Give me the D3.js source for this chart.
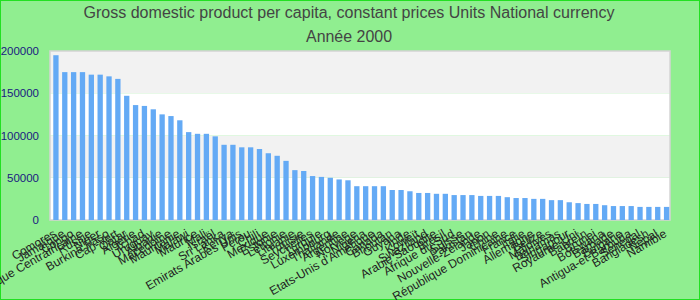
<!DOCTYPE html>
<html>
<head>
<meta charset="utf-8">
<script src="https://cdn.jsdelivr.net/npm/d3@7"></script>
<style>
body { margin: 0; background: #90ee90; }
svg { display: block; }
</style>
</head>
<body>
<svg width="700" height="300"></svg>
<script>
var titleLines = ['Gross domestic product per capita, constant prices Units National currency', 'Année 2000'];

var countries = [
	'Comores', 'Jamaïque', 'Congo', 'République Centrafricaine', 'Russie', 'Niger', 'Burkina Faso', 'Cap-Vert',
	'Qatar', 'Algérie', 'Tchad', 'Uruguay', 'Albanie', 'Macédoine', 'Mauritanie', 'Malawi',
	'Maurice', 'Mali', 'Israël', 'Sri Lanka', 'Kenya', 'Emirats Arabes Unis', 'Pérou', 'Chili',
	'Mexique', 'Estonie', 'Lettonie', 'Lituanie', 'Tunisie', 'Seychelles', 'Turquie', 'Luxembourg',
	'Thaïlande', 'Argentine', 'Norvège', 'Nigeria', 'Etats-Unis d\'Amérique', 'Canada', 'Bhoutan', 'Guyana',
	'Inde', 'Koweït', 'Swaziland', 'Arabie Saoudite', 'Brésil', 'Afrique du Sud', 'Suisse', 'Pakistan',
	'Nouvelle-Zélande', 'Japon', 'Chine', 'République Dominicaine', 'France', 'Italie', 'Allemagne', 'Belize',
	'Maldives', 'Bahamas', 'Singapour', 'Royaume-Uni', 'Bahreïn', 'Brunei', 'Botswana', 'Barbade',
	'Bulgarie', 'Antigua-et-Barbuda', 'Sénégal', 'Bangladesh', 'Népal', 'Namibie'
];

var values = [
	195000, 175000, 175000, 175000, 172000, 172000, 170000, 167000,
	147000, 136000, 135000, 131000, 125000, 123000, 118000, 104000,
	102000, 102000, 99000, 89000, 89000, 86000, 86000, 84000,
	79000, 76000, 70000, 59000, 58000, 52000, 51000, 50000,
	48000, 47000, 40000, 40000, 40000, 40000, 35500, 35500,
	34000, 32000, 32000, 31000, 31000, 29500, 29500, 29500,
	28500, 28500, 28500, 27000, 26000, 26000, 25000, 25000,
	23500, 23500, 21000, 20000, 19000, 19000, 17500, 16500,
	16500, 16500, 15500, 15500, 15500, 15500
];

var yTicks = [0, 50000, 100000, 150000, 200000];

var svg = d3.select('svg');

svg.append('rect')
	.attr('x', 0.5).attr('y', 0.5)
	.attr('width', 699).attr('height', 299)
	.attr('fill', '#90ee90')
	.attr('stroke', '#22e022');

var x = d3.scaleBand()
	.domain(countries)
	.range([51.5, 671])
	.paddingInner(0.4)
	.paddingOuter(0.2);

var y = d3.scaleLinear()
	.domain([0, 200000])
	.range([220, 51]);

// alternating bands
var g = svg.append('g');
for (var i = 0; i < yTicks.length - 1; i++) {
	g.append('rect')
		.attr('x', 50)
		.attr('y', y(yTicks[i + 1]))
		.attr('width', 620)
		.attr('height', y(yTicks[i]) - y(yTicks[i + 1]))
		.attr('fill', i % 2 ? '#f2f2f2' : '#ffffff');
}
g.append('rect')
	.attr('x', 50).attr('y', y(200000))
	.attr('width', 620).attr('height', y(0) - y(200000))
	.attr('fill', 'none')
	.attr('stroke', '#d4d4d4')
	.attr('stroke-width', 1.5);

g.selectAll('.bar')
	.data(values)
	.enter().append('rect')
	.attr('class', 'bar')
	.attr('x', function(d, i) { return x(countries[i]); })
	.attr('y', function(d) { return y(d); })
	.attr('width', x.bandwidth())
	.attr('height', function(d) { return y(0) - y(d); })
	.attr('fill', '#64aaf5');

// y axis
var yAxis = svg.append('g')
	.attr('transform', 'translate(39,0)')
	.call(d3.axisLeft(y).tickValues(yTicks).tickSize(0).tickPadding(0).tickFormat(d3.format('d')));
yAxis.select('.domain').remove();
yAxis.selectAll('text')
	.attr('fill', '#1a1a80')
	.style('font-family', 'Liberation Sans')
	.style('font-size', '11.5px');

// x axis, labels end just under each bar
var xAxis = svg.append('g')
	.call(d3.axisBottom(x).tickSize(0).tickPadding(0));
xAxis.select('.domain').remove();
xAxis.selectAll('text')
	.attr('y', 0)
	.attr('dy', 0)
	.attr('transform', 'translate(1,236) rotate(-30)')
	.style('text-anchor', 'end')
	.attr('fill', '#222')
	.style('font-family', 'Liberation Sans')
	.style('font-size', '12px');

// title
svg.selectAll('.title')
	.data(titleLines)
	.enter().append('text')
	.attr('class', 'title')
	.attr('x', 349)
	.attr('y', function(d, i) { return 18 + i * 24; })
	.attr('text-anchor', 'middle')
	.attr('fill', '#444')
	.style('font-family', 'Liberation Sans')
	.style('font-size', '16px')
	.attr('textLength', function(d, i) { return i ? 86 : 531; })
	.attr('lengthAdjust', 'spacingAndGlyphs')
	.text(function(d) { return d; });
</script>
</body>
</html>
